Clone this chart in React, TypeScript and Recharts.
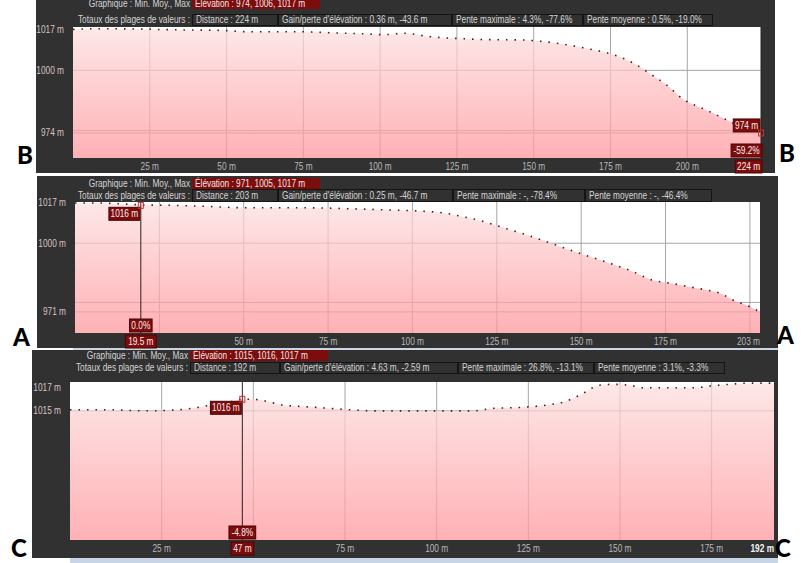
import React from 'react';
import { AreaChart, Area, XAxis, YAxis, CartesianGrid, ReferenceLine, ReferenceDot } from 'recharts';

// ---------- Panel B (top) ----------
const distB = [0, 7, 19, 35, 48, 58, 75, 84, 96, 101, 108, 116, 121, 128, 133, 147, 151, 160, 168, 174, 178, 183, 188, 193, 199, 205, 210, 215, 220, 224];
const elevB = [1017, 1017.3, 1017.2, 1016.8, 1016.6, 1016.0, 1016.0, 1015.6, 1015.1, 1014.8, 1015.4, 1014.0, 1013.5, 1013.1, 1012.8, 1012.6, 1012.2, 1010.8, 1008.9, 1007.2, 1005.6, 1002.6, 998.5, 994.2, 987.7, 984.2, 981.2, 978.1, 976.0, 974];
const xTicksB = [25, 50, 75, 100, 125, 150, 175, 200];
const yTicksB = [974, 1000, 1017];
const summaryB = 'Élévation : 974, 1006, 1017 m';
const statsB = ['Distance : 224 m', "Gain/perte d'élévation : 0.36 m, -43.6 m", 'Pente maximale : 4.3%, -77.6%', 'Pente moyenne : 0.5%, -19.0%'];
const cursorB = { d: 224, elev: 974, pct: '-59.2%' };

// ---------- Panel A (middle) ----------
const distA = [0, 6, 11, 19.5, 28, 38, 50, 62, 72, 85, 94, 102, 109, 115, 121, 127, 135, 142, 150, 158, 165, 171, 177, 182, 187, 191, 195, 199, 203];
const elevA = [1017, 1017, 1016.8, 1016.2, 1016.0, 1015.6, 1015.0, 1015.0, 1014.9, 1014.4, 1014.0, 1013.6, 1012.8, 1011.2, 1009.2, 1006.5, 1003.0, 999.5, 995.5, 991.8, 988.2, 984.5, 983.0, 981.6, 980.3, 979.0, 976.0, 973.8, 971];
const xTicksA = [50, 75, 100, 125, 150, 175, 203];
const yTicksA = [971, 1000, 1017];
const summaryA = 'Élévation : 971, 1005, 1017 m';
const statsA = ['Distance : 203 m', "Gain/perte d'élévation : 0.25 m, -46.7 m", 'Pente maximale : -, -78.4%', 'Pente moyenne : -, -46.4%'];
const cursorA = { d: 19.5, elev: 1016, pct: '0.0%' };

// ---------- Panel C (bottom) ----------
const distC = [0, 10, 20, 30, 35, 40, 44, 47, 50, 54, 58, 62, 67, 76, 83, 94, 105, 110, 115, 123, 130, 135, 138, 141, 144, 148, 153, 156, 163, 170, 176, 180, 185, 192];
const elevC = [1015.1, 1015.1, 1015.0, 1015.1, 1015.3, 1015.6, 1015.8, 1016.0, 1016.0, 1015.8, 1015.5, 1015.4, 1015.3, 1015.1, 1015.0, 1015.0, 1015.0, 1015.0, 1015.2, 1015.3, 1015.5, 1015.8, 1016.2, 1016.7, 1017.2, 1017.3, 1017.2, 1017.0, 1017.0, 1017.0, 1017.2, 1017.3, 1017.4, 1017.4];
const xTicksC = [25, 75, 100, 125, 150, 175, 192];
const yTicksC = [1015, 1017];
const summaryC = 'Élévation : 1015, 1016, 1017 m';
const statsC = ['Distance : 192 m', "Gain/perte d'élévation : 4.63 m, -2.59 m", 'Pente maximale : 26.8%, -13.1%', 'Pente moyenne : 3.1%, -3.3%'];
const cursorC = { d: 47, elev: 1016, pct: '-4.8%' };

const headerLabel1 = 'Graphique : Min. Moy., Max';
const headerLabel2 = 'Totaux des plages de valeurs :';

const FONT = "'Liberation Sans', Arial, sans-serif";
const SX = 0.83;
const BOX_RED = '#7d0c0c';

type Cur = { d: number; elev: number; pct: string };
type Cfg = {
  id: string;
  dist: number[];
  elev: number[];
  xMax: number;
  yDomain: [number, number];
  xTicks: number[];
  yTicks: number[];
  gridX: number[];
  gridY: number[];
  cursor: Cur;
  boxAbove: boolean;
  alignEnd: boolean;
  endBold: boolean;
  panel: { left: number; top: number; width: number; height: number };
  plot: { left: number; top: number; right: number; bottom: number };
  header: { edges: number[]; redRight: number; r1Top: number; r1H: number; r2Top: number; r2H: number };
  summary: string;
  stats: string[];
};

const cfgs: Cfg[] = [
  {
    id: 'B', dist: distB, elev: elevB, xMax: 224, yDomain: [963.6, 1018.0], xTicks: xTicksB, yTicks: yTicksB,
    gridX: xTicksB, gridY: [974, 975, 1000], cursor: cursorB, boxAbove: true, alignEnd: true, endBold: false,
    panel: { left: 36, top: 0, width: 739, height: 173 },
    plot: { left: 73, top: 27, right: 761, bottom: 158 },
    header: { edges: [192, 278, 452, 583, 713], redRight: 320, r1Top: -2, r1H: 11, r2Top: 14, r2H: 12 },
    summary: summaryB, stats: statsB,
  },
  {
    id: 'A', dist: distA, elev: elevA, xMax: 203, yDomain: [962.1, 1017.4], xTicks: xTicksA, yTicks: yTicksA,
    gridX: [25, 50, 75, 100, 125, 150, 175, 200], gridY: [971, 975, 1000], cursor: cursorA, boxAbove: false, alignEnd: false, endBold: false,
    panel: { left: 37, top: 176, width: 741, height: 172 },
    plot: { left: 75, top: 202, right: 760, bottom: 333 },
    header: { edges: [192, 278, 453, 585, 712], redRight: 320, r1Top: 178, r1H: 11, r2Top: 189, r2H: 13 },
    summary: summaryA, stats: statsA,
  },
  {
    id: 'C', dist: distC, elev: elevC, xMax: 192, yDomain: [1003.8, 1017.5], xTicks: xTicksC, yTicks: yTicksC,
    gridX: [25, 50, 75, 100, 125, 150, 175], gridY: [1015], cursor: cursorC, boxAbove: false, alignEnd: false, endBold: true,
    panel: { left: 32, top: 350, width: 746, height: 208 },
    plot: { left: 70, top: 382, right: 774, bottom: 540 },
    header: { edges: [190, 280, 458, 594, 725], redRight: 328, r1Top: 350, r1H: 11, r2Top: 362, r2H: 12 },
    summary: summaryC, stats: statsC,
  },
];

const textW = (s: string) => s.length * 4.15 + 6;

// narrow text helper for SVG
function NText({ x, y, anchor, fill, bold, children }: { x: number; y: number; anchor: 'start' | 'middle' | 'end'; fill: string; bold?: boolean; children: React.ReactNode }) {
  return (
    <text transform={`translate(${x},${y}) scale(${SX},1)`} dy="0.35em" textAnchor={anchor} fontFamily={FONT} fontSize={10}
      fill={fill} fontWeight={bold ? 'bold' : 'normal'}>{children}</text>
  );
}

function Header({ cfg }: { cfg: Cfg }) {
  const h = cfg.header;
  const x0 = h.edges[0];
  const txt: React.CSSProperties = { position: 'absolute', fontFamily: FONT, fontSize: 10, color: '#d4d4d4', whiteSpace: 'nowrap' };
  const spanL: React.CSSProperties = { display: 'inline-block', transform: `scaleX(${SX})`, transformOrigin: 'left center' };
  const spanR: React.CSSProperties = { display: 'inline-block', transform: `scaleX(${SX})`, transformOrigin: 'right center' };
  return (
    <>
      <div style={{ ...txt, left: x0 - 200, width: 198, textAlign: 'right', top: h.r1Top, height: h.r1H, lineHeight: h.r1H + 'px' }}><span style={spanR}>{headerLabel1}</span></div>
      <div style={{ ...txt, left: x0, width: h.redRight - x0, top: h.r1Top, height: h.r1H, lineHeight: h.r1H + 'px', background: BOX_RED, color: '#f3e6e6', paddingLeft: 3, boxSizing: 'border-box' }}><span style={spanL}>{cfg.summary}</span></div>
      <div style={{ ...txt, left: x0 - 200, width: 198, textAlign: 'right', top: h.r2Top, height: h.r2H, lineHeight: h.r2H + 'px' }}><span style={spanR}>{headerLabel2}</span></div>
      {cfg.stats.map((s, i) => (
        <div key={i} style={{ ...txt, left: h.edges[i], width: h.edges[i + 1] - h.edges[i], top: h.r2Top, height: h.r2H, lineHeight: h.r2H - 2 + 'px', border: '1px solid #141414', boxSizing: 'border-box', paddingLeft: 3 }}><span style={spanL}>{s}</span></div>
      ))}
    </>
  );
}

function Profile({ cfg }: { cfg: Cfg }) {
  const mTop = 10, mRight = 12, xAxisH = 20;
  const { plot, panel } = cfg;
  const yW = plot.left - panel.left;
  const width = plot.right - panel.left + mRight;
  const height = plot.bottom - plot.top + mTop + xAxisH;
  const rows = cfg.dist.map((d, i) => ({ d, e: cfg.elev[i] }));
  const cur = cfg.cursor;

  const xTick = (p: any) => {
    const v = p.payload.value;
    const isEnd = v === cfg.xMax;
    return (
      <NText x={p.x} y={p.y + 8} anchor={isEnd ? 'end' : 'middle'} fill={isEnd && cfg.endBold ? '#f4f4f4' : '#b8b8b8'} bold={isEnd && cfg.endBold}>{`${v} m`}</NText>
    );
  };
  const yTick = (p: any) => (
    <NText x={p.x - 9} y={p.y} anchor="end" fill="#d6c2c2">{`${p.payload.value} m`}</NText>
  );

  const elevBox = (p: any) => {
    const { cx, cy } = p;
    const s = `${cur.elev} m`;
    const w = textW(s), h = 13;
    const bx = cx - 1 - w;
    const by = cfg.boxAbove ? cy - 1 - h : cy + 2;
    return (
      <g>
        <rect x={bx} y={by} width={w} height={h} fill={BOX_RED} stroke="#4e0303" />
        <NText x={bx + w / 2} y={by + h / 2} anchor="middle" fill="#fbeeee">{s}</NText>
        <rect x={cx - 2.5} y={cy - 3} width={5} height={6} fill="none" stroke="#d42a2a" strokeWidth={1} />
      </g>
    );
  };
  const bottomBoxes = (p: any) => {
    const { cx, cy } = p;
    const s2 = `${cur.d} m`;
    const w1 = textW(cur.pct), w2 = textW(s2);
    const x1 = cfg.alignEnd ? cx + 1 - w1 : cx - w1 / 2;
    const x2 = cfg.alignEnd ? cx + 1 - w2 : cx - w2 / 2;
    return (
      <g>
        <rect x={x1} y={cy - 14} width={w1} height={13} fill={BOX_RED} stroke="#4e0303" />
        <NText x={x1 + w1 / 2} y={cy - 7.5} anchor="middle" fill="#fbeeee">{cur.pct}</NText>
        <rect x={x2} y={cy + 2} width={w2} height={13} fill={BOX_RED} stroke="#4e0303" />
        <NText x={x2 + w2 / 2} y={cy + 8.5} anchor="middle" fill="#fbeeee">{s2}</NText>
      </g>
    );
  };

  return (
    <div style={{ position: 'absolute', left: panel.left, top: plot.top - mTop }}>
      <AreaChart width={width} height={height} data={rows} margin={{ top: mTop, right: mRight, bottom: 0, left: 0 }}>
        <defs>
          <linearGradient id={`fill${cfg.id}`} x1="0" y1="0" x2="0" y2="1">
            <stop offset="0" stopColor="#fcdede" />
            <stop offset="1" stopColor="#ff9399" />
          </linearGradient>
        </defs>
        <CartesianGrid fill="#ffffff" fillOpacity={1} stroke="#a6a6a6" verticalValues={cfg.gridX} horizontalValues={cfg.gridY} />
        <XAxis type="number" dataKey="d" domain={[0, cfg.xMax]} ticks={cfg.xTicks} interval={0} tick={xTick}
          tickLine={false} axisLine={false} tickSize={0} tickMargin={0} height={xAxisH} allowDataOverflow />
        <YAxis type="number" domain={cfg.yDomain} ticks={cfg.yTicks} interval={0} tick={yTick}
          tickLine={false} axisLine={false} tickSize={0} tickMargin={0} width={yW} allowDataOverflow />
        <Area type="monotone" dataKey="e" stroke="#3a1c1c" strokeWidth={1.6} strokeDasharray="1.5 7"
          fill={`url(#fill${cfg.id})`} fillOpacity={0.72} isAnimationActive={false} dot={false} activeDot={false} />
        <ReferenceLine x={cur.d} stroke="#2b2222" strokeWidth={1} />
        <ReferenceDot x={cur.d} y={cfg.yDomain[0]} shape={bottomBoxes} />
        <ReferenceDot x={cur.d} y={cur.elev} shape={elevBox} />
      </AreaChart>
    </div>
  );
}

const letterStyle: React.CSSProperties = { position: 'absolute', fontFamily: 'Lato, "Open Sans", Arial, sans-serif', fontWeight: 900, fontSize: 24, color: '#000', lineHeight: '24px' };

export default function App() {
  return (
    <div style={{ position: 'absolute', left: 0, top: 0, width: 802, height: 563, background: '#ffffff', overflow: 'hidden' }}>
      {cfgs.map((c) => (
        <div key={'bg' + c.id} style={{ position: 'absolute', left: c.panel.left, top: c.panel.top, width: c.panel.width, height: c.panel.height, background: '#313131' }} />
      ))}
      <div style={{ position: 'absolute', left: 73, top: 348, width: 705, height: 2, background: '#c9d6e4' }} />
      <div style={{ position: 'absolute', left: 70, top: 558, width: 708, height: 5, background: '#c7d5e6' }} />
      {cfgs.map((c) => (
        <Header key={'h' + c.id} cfg={c} />
      ))}
      {cfgs.map((c) => (
        <Profile key={'p' + c.id} cfg={c} />
      ))}
      <div style={{ ...letterStyle, left: 17, top: 143 }}>B</div>
      <div style={{ ...letterStyle, left: 779, top: 141 }}>B</div>
      <div style={{ ...letterStyle, left: 13, top: 325 }}>A</div>
      <div style={{ ...letterStyle, left: 777, top: 323 }}>A</div>
      <div style={{ ...letterStyle, left: 11, top: 536 }}>C</div>
      <div style={{ ...letterStyle, left: 775, top: 536 }}>C</div>
    </div>
  );
}
